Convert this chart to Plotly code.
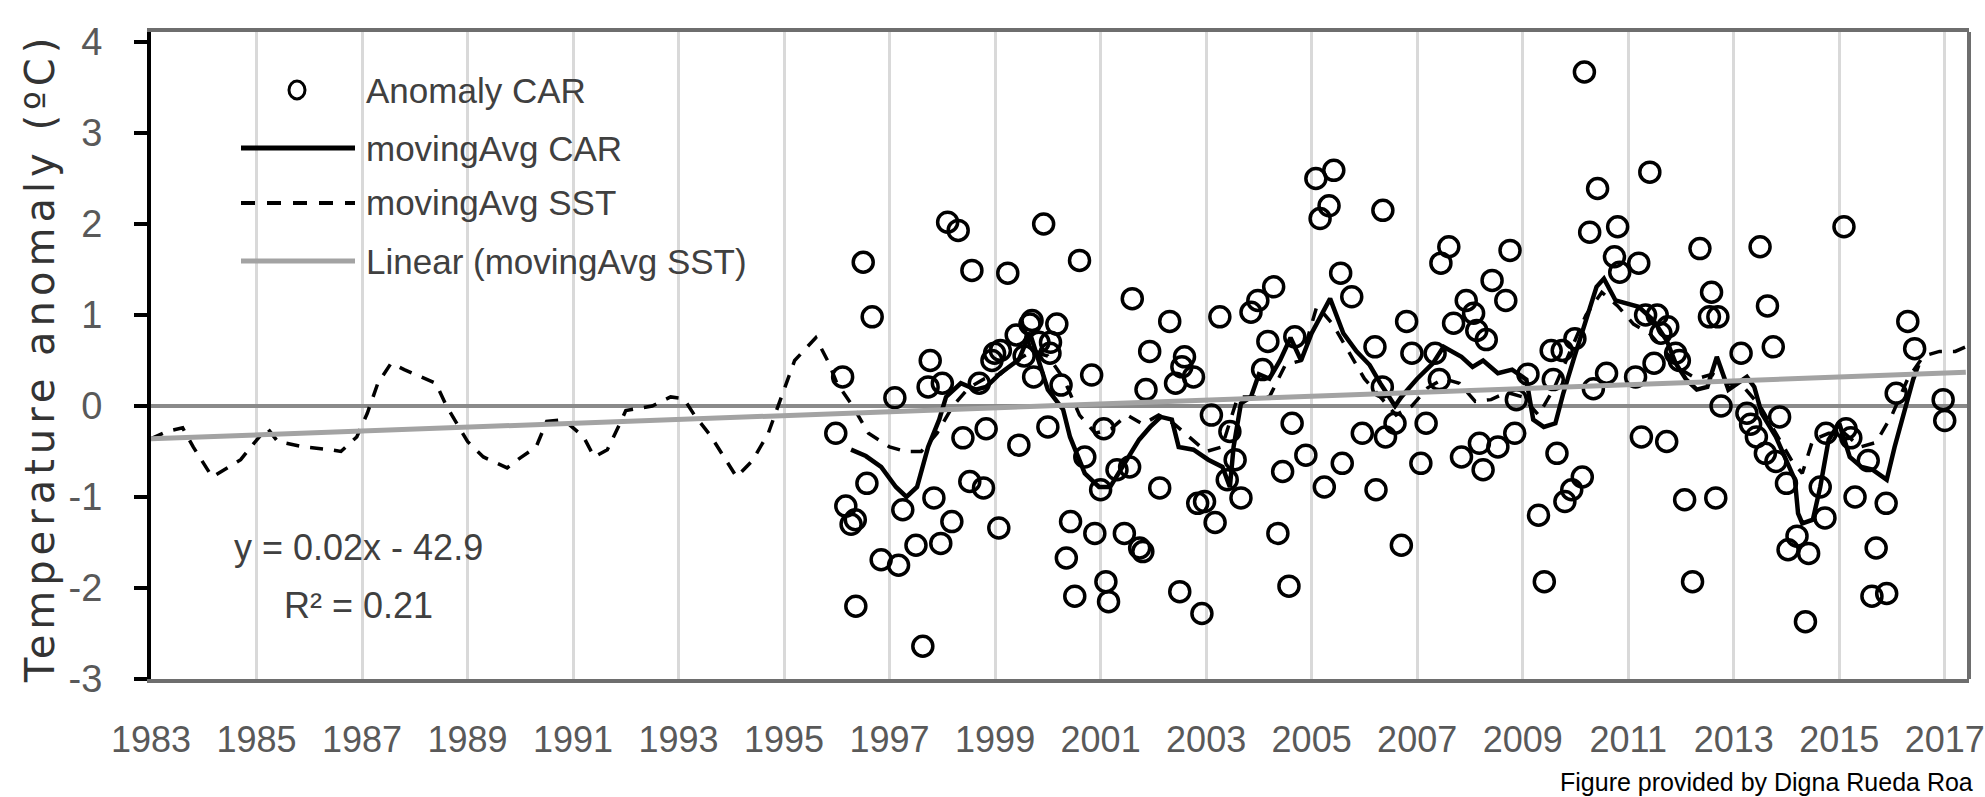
import plotly.graph_objects as go

# ---------------- data ----------------
anomaly_years = [
    1995.98, 1996.11, 1996.17, 1996.27, 1996.35, 1996.36, 1996.50, 1996.57, 1996.67, 1996.84, 1997.10,
    1997.17, 1997.25, 1997.50, 1997.63, 1997.73, 1997.77, 1997.84, 1997.97, 1998.00,
    1998.10, 1998.18, 1998.30, 1998.39, 1998.52, 1998.56, 1998.70, 1998.78, 1998.83, 1998.94, 1998.99,
    1999.07, 1999.10, 1999.24, 1999.40, 1999.45, 1999.55, 1999.66, 1999.70, 1999.73, 1999.83, 1999.92,
    2000.00, 2000.04, 2000.05, 2000.17, 2000.25, 2000.35, 2000.43, 2000.51, 2000.60, 2000.70, 2000.83, 2000.89,
    2001.00, 2001.06, 2001.10, 2001.15, 2001.31, 2001.45, 2001.55, 2001.60, 2001.74, 2001.80, 2001.86, 2001.93,
    2002.12, 2002.31, 2002.42, 2002.50, 2002.54, 2002.59, 2002.76, 2002.84, 2002.92, 2002.97,
    2003.10, 2003.17, 2003.26, 2003.40, 2003.45, 2003.55, 2003.66, 2003.85, 2003.98,
    2004.07, 2004.17, 2004.28, 2004.36, 2004.45, 2004.57, 2004.63, 2004.68, 2004.89,
    2005.08, 2005.16, 2005.24, 2005.33, 2005.42, 2005.55, 2005.58, 2005.76, 2005.96,
    2006.20, 2006.22, 2006.34, 2006.35, 2006.40, 2006.58, 2006.70, 2006.80, 2006.90,
    2007.07, 2007.17, 2007.34, 2007.42, 2007.45, 2007.60, 2007.69, 2007.84, 2007.93,
    2008.07, 2008.13, 2008.18, 2008.25, 2008.31, 2008.42, 2008.53, 2008.68, 2008.76, 2008.85, 2008.88,
    2009.10, 2009.30, 2009.41, 2009.54, 2009.58, 2009.65, 2009.75, 2009.80, 2009.93, 2009.99,
    2010.13, 2010.17, 2010.27, 2010.34, 2010.42, 2010.59, 2010.74, 2010.80, 2010.84,
    2011.14, 2011.20, 2011.25, 2011.33, 2011.41, 2011.49, 2011.55, 2011.62, 2011.73, 2011.75, 2011.90, 2011.97,
    2012.07, 2012.22, 2012.36, 2012.54, 2012.58, 2012.66, 2012.70, 2012.76,
    2013.14, 2013.25, 2013.32, 2013.43, 2013.50, 2013.60, 2013.64, 2013.75, 2013.80, 2013.87,
    2014.00, 2014.03, 2014.20, 2014.36, 2014.42, 2014.64, 2014.73, 2014.75,
    2015.09, 2015.13, 2015.22, 2015.30, 2015.55, 2015.62, 2015.70, 2015.89, 2015.90,
    2016.08, 2016.30, 2016.43, 2016.97, 2017.00,
]
anomaly_values = [
    -0.30, 0.32, -1.10, -1.30, -1.25, -2.20, 1.58, -0.85, 0.98, -1.69, 0.09,
    -1.75, -1.14, -1.53, -2.64, 0.21, 0.50, -1.01, -1.51, 0.25,
    2.02, -1.27, 1.93, -0.35, -0.83, 1.49, 0.25, -0.90, -0.25, 0.50, 0.58,
    -1.34, 0.61, 1.46, 0.78, -0.43, 0.55, 0.90, 0.94, 0.32, 0.70, 2.00,
    -0.23, 0.58, 0.70, 0.90, 0.23, -1.67, -1.27, -2.09, 1.60, -0.56, 0.34, -1.40,
    -0.92, -0.25, -1.93, -2.15, -0.70, -1.40, -0.67, 1.18, -1.56, -1.60, 0.18, 0.60,
    -0.90, 0.93, 0.25, -2.04, 0.43, 0.54, 0.32, -1.07, -2.28, -1.05,
    -0.10, -1.28, 0.98, -0.81, -0.28, -0.59, -1.01, 1.03, 1.16,
    0.40, 0.71, 1.31, -1.40, -0.72, -1.98, -0.19, 0.76, -0.54,
    2.50, 2.06, -0.89, 2.20, 2.59, 1.46, -0.63, 1.20, -0.30,
    0.65, -0.92, 0.21, 2.15, -0.34, -0.19, -1.53, 0.93, 0.58,
    -0.63, -0.19, 0.58, 0.29, 1.57, 1.75, 0.91, -0.56, 1.16,
    1.02, 0.83, -0.41, -0.70, 0.73, 1.38, -0.45, 1.16, 1.71, -0.30, 0.07,
    0.35, -1.20, -1.93, 0.61, 0.29, -0.52, 0.61, -1.05, -0.92, 0.74,
    -0.78, 3.67, 1.91, 0.19, 2.39, 0.36, 1.64, 1.97, 1.47,
    0.32, 1.57, -0.34, 1.00, 2.57, 0.47, 1.00, 0.80, -0.39, 0.87, 0.58, 0.50,
    -1.03, -1.93, 1.73, 0.98, 1.25, -1.01, 0.98, 0.00,
    0.58, -0.08, -0.20, -0.34, 1.75, -0.52, 1.10, 0.65, -0.61, -0.12,
    -0.85, -1.58, -1.43, -2.37, -1.62, -0.89, -1.23, -0.30,
    1.97, -0.25, -0.35, -1.00, -0.60, -2.09, -1.56, -1.07, -2.06,
    0.14, 0.93, 0.63, 0.07, -0.16,
]

car_ma_years = [
    1996.27, 1996.55, 1996.84, 1997.12, 1997.32, 1997.52, 1997.73, 1997.94, 1998.07, 1998.35,
    1998.63, 1998.83, 1999.10, 1999.45, 1999.66, 1999.80, 2000.00, 2000.29, 2000.42, 2000.70,
    2000.97, 2001.18, 2001.45, 2001.73, 2001.94, 2002.14, 2002.35, 2002.48, 2002.76, 2003.04,
    2003.31, 2003.45, 2003.52, 2003.66, 2003.85, 2004.00, 2004.20, 2004.40, 2004.60, 2004.80,
    2005.00, 2005.35, 2005.60, 2005.85, 2006.10, 2006.30, 2006.58, 2006.70, 2006.85, 2007.00,
    2007.30, 2007.50, 2007.84, 2008.05, 2008.25, 2008.53, 2008.80, 2009.07, 2009.20, 2009.40,
    2009.62, 2009.77, 2009.98, 2010.19, 2010.40, 2010.54, 2010.76, 2011.20, 2011.48, 2011.73,
    2011.90, 2012.10, 2012.30, 2012.50, 2012.68, 2012.90, 2013.25, 2013.39, 2013.53, 2013.80,
    2014.00, 2014.16, 2014.22, 2014.30, 2014.50, 2014.64, 2014.80, 2015.00, 2015.20, 2015.42,
    2015.63, 2015.90, 2016.05, 2016.25, 2016.40, 2016.50,
]
car_ma_values = [
    -0.48, -0.55, -0.67, -0.89, -1.00, -0.89, -0.45, -0.15, 0.10, 0.25,
    0.18, 0.21, 0.36, 0.51, 0.80, 0.54, 0.18, -0.04, -0.34, -0.74,
    -0.89, -0.89, -0.63, -0.37, -0.23, -0.12, -0.15, -0.45, -0.48, -0.59,
    -0.67, -0.89, -0.45, 0.03, 0.10, 0.35, 0.30, 0.50, 0.75, 0.50,
    0.80, 1.18, 0.80, 0.60, 0.45, 0.25, 0.00, 0.10, 0.20, 0.30,
    0.47, 0.65, 0.54, 0.43, 0.50, 0.36, 0.40, 0.29, -0.15, -0.23,
    -0.19, 0.14, 0.54, 0.91, 1.31, 1.40, 1.16, 1.09, 0.94, 0.72,
    0.47, 0.29, 0.18, 0.21, 0.54, 0.18, 0.32, 0.21, -0.08, -0.34,
    -0.59, -0.81, -1.18, -1.29, -1.25, -0.89, -0.37, -0.19, -0.56, -0.67,
    -0.70, -0.81, -0.45, 0.00, 0.29, 0.45,
]

sst_ma_years = [
    1983.00, 1983.30, 1983.60, 1983.80, 1984.16, 1984.45, 1984.70, 1984.95, 1985.20, 1985.40,
    1985.90, 1986.40, 1986.60, 1986.90, 1987.10, 1987.30, 1987.55, 1987.80, 1988.10, 1988.40,
    1988.60, 1988.80, 1989.00, 1989.30, 1989.75, 1990.00, 1990.30, 1990.50, 1990.80, 1990.90,
    1991.20, 1991.40, 1991.65, 1991.85, 1992.00, 1992.20, 1992.50, 1992.85, 1993.10, 1993.30,
    1993.60, 1994.10, 1994.40, 1994.70, 1994.95, 1995.20, 1995.60, 1995.85,
    1996.00, 1996.30, 1996.60, 1997.00, 1997.30, 1997.60, 1997.90, 1998.20, 1998.50, 1998.80,
    1999.10, 1999.40, 1999.70, 2000.00, 2000.30, 2000.60, 2000.90, 2001.20, 2001.50, 2001.80,
    2002.10, 2002.40, 2002.70, 2003.00, 2003.30, 2003.60, 2003.90, 2004.20, 2004.50, 2004.80,
    2005.10, 2005.40, 2005.70, 2006.00, 2006.30, 2006.60, 2006.90, 2007.20, 2007.50, 2007.80,
    2008.10, 2008.40, 2008.70, 2009.00, 2009.30, 2009.60, 2009.90, 2010.20, 2010.50, 2010.80,
    2011.10, 2011.40, 2011.70, 2012.00, 2012.30, 2012.60, 2012.90, 2013.20, 2013.50, 2013.80,
    2014.10, 2014.30, 2014.50, 2014.80, 2015.10, 2015.40, 2015.70, 2016.00, 2016.30, 2016.60,
    2016.90, 2017.20, 2017.40,
]
sst_ma_values = [
    -0.36, -0.28, -0.24, -0.45, -0.78, -0.68, -0.59, -0.41, -0.24, -0.39,
    -0.45, -0.48, -0.50, -0.34, -0.08, 0.25, 0.47, 0.40, 0.32, 0.25,
    0.00, -0.19, -0.39, -0.56, -0.68, -0.57, -0.45, -0.17, -0.15, -0.19,
    -0.34, -0.56, -0.48, -0.24, -0.05, -0.03, 0.00, 0.10, 0.08, -0.10,
    -0.32, -0.78, -0.60, -0.30, 0.10, 0.50, 0.75, 0.47,
    0.25, 0.00, -0.30, -0.45, -0.50, -0.50, -0.30, 0.00, 0.20, 0.30,
    0.35, 0.50, 0.60, 0.55, 0.30, -0.10, -0.30, -0.25, -0.10, -0.20,
    -0.10, -0.20, -0.35, -0.50, -0.45, 0.10, 0.10, 0.10, 0.45, 0.50,
    1.10, 0.90, 0.60, 0.30, 0.10, -0.10, 0.00, 0.20, 0.30, 0.25,
    0.05, 0.07, 0.15, 0.10, -0.10, 0.20, 0.60, 1.00, 1.25, 1.10,
    0.90, 0.80, 0.60, 0.40, 0.30, 0.35, 0.25, 0.20, 0.00, -0.30,
    -0.60, -0.74, -0.37, -0.30, -0.30, -0.45, -0.40, -0.10, 0.30, 0.55,
    0.60, 0.60, 0.65,
]

trend_years = [1983.0, 2017.4]
trend_values = [-0.36, 0.37]

x_tick_years = list(range(1983, 2018, 2))
x_tick_labels = [str(y) for y in x_tick_years]
y_tick_values = [-3, -2, -1, 0, 1, 2, 3, 4]
y_tick_labels = ["-3", "-2", "-1", "0", "1", "2", "3", "4"]

legend_names = ["Anomaly CAR", "movingAvg CAR", "movingAvg SST", "Linear (movingAvg SST)"]
equation_text = "y = 0.02x - 42.9"
r2_text = "R² = 0.21"
footer_text = "Figure provided by Digna Rueda Roa"
y_title = "Temperature anomaly (ºC)"

# ---------------- styling ----------------
NARROW = "Liberation Sans Narrow, Liberation Sans, Arial, sans-serif"
W, H = 1985, 797
ML, MR, MT, MB = 151, 16, 32, 118
PW, PH = W - ML - MR, H - MT - MB


def px_x(px):
    return (px - ML) / PW


def px_y(py):
    return (H - MB - py) / PH


fig = go.Figure()

fig.add_trace(go.Scatter(
    x=sst_ma_years, y=sst_ma_values, mode="lines", name=legend_names[2],
    line=dict(color="black", width=3.5, dash="13px,11px"), showlegend=False))
fig.add_trace(go.Scatter(
    x=anomaly_years, y=anomaly_values, mode="markers", name=legend_names[0],
    marker=dict(symbol="circle-open", size=20, color="black", line=dict(width=3.5, color="black")),
    showlegend=False))
fig.add_trace(go.Scatter(
    x=car_ma_years, y=car_ma_values, mode="lines", name=legend_names[1],
    line=dict(color="black", width=4.5), showlegend=False))
fig.add_trace(go.Scatter(
    x=trend_years, y=trend_values, mode="lines", name=legend_names[3],
    line=dict(color="#a3a3a3", width=5), showlegend=False))

shapes = []
# white boxes behind legend and equation (cover gridlines only)
shapes.append(dict(type="rect", xref="paper", yref="paper", layer="between",
                   x0=0.003, x1=px_x(765), y0=px_y(290), y1=px_y(63),
                   fillcolor="white", line=dict(width=0)))
shapes.append(dict(type="rect", xref="paper", yref="paper", layer="between",
                   x0=0.003, x1=px_x(505), y0=px_y(643), y1=px_y(500),
                   fillcolor="white", line=dict(width=0)))
# right border
shapes.append(dict(type="line", xref="paper", yref="paper", x0=1, x1=1, y0=0, y1=1,
                   line=dict(color="#6e6e6e", width=4)))

# legend samples
row_y = [90, 148, 203, 261]
shapes.append(dict(type="circle", xref="paper", yref="paper", xsizemode="pixel", ysizemode="pixel",
                   xanchor=px_x(297), yanchor=px_y(row_y[0]), x0=-8, x1=8, y0=-9, y1=9,
                   line=dict(color="black", width=3)))
shapes.append(dict(type="line", xref="paper", yref="paper", x0=px_x(241), x1=px_x(355),
                   y0=px_y(row_y[1]), y1=px_y(row_y[1]), line=dict(color="black", width=5)))
shapes.append(dict(type="line", xref="paper", yref="paper", x0=px_x(241), x1=px_x(355),
                   y0=px_y(row_y[2]), y1=px_y(row_y[2]), line=dict(color="black", width=4, dash="14px,12px")))
shapes.append(dict(type="line", xref="paper", yref="paper", x0=px_x(241), x1=px_x(355),
                   y0=px_y(row_y[3]), y1=px_y(row_y[3]), line=dict(color="#a3a3a3", width=5)))

annotations = []
for name, ry in zip(legend_names, row_y):
    annotations.append(dict(text=name, xref="paper", yref="paper", x=px_x(364), y=px_y(ry),
                            xanchor="left", yanchor="middle", showarrow=False,
                            font=dict(family=NARROW, size=35, color="#404040")))
annotations.append(dict(text=equation_text, xref="paper", yref="paper", x=px_x(358), y=px_y(547),
                        xanchor="center", yanchor="middle", showarrow=False,
                        font=dict(family=NARROW, size=36, color="#404040")))
annotations.append(dict(text=r2_text, xref="paper", yref="paper", x=px_x(358), y=px_y(605),
                        xanchor="center", yanchor="middle", showarrow=False,
                        font=dict(family=NARROW, size=36, color="#404040")))
annotations.append(dict(text=footer_text, xref="paper", yref="paper", x=px_x(1975), y=px_y(782),
                        xanchor="right", yanchor="middle", showarrow=False,
                        font=dict(family="Liberation Sans, Arial, sans-serif", size=25, color="black")))
annotations.append(dict(text='<span style="letter-spacing:5px">' + y_title + '</span>',
                        xref="paper", yref="paper", x=px_x(40), y=px_y(358),
                        xanchor="center", yanchor="middle", showarrow=False, textangle=-90,
                        font=dict(family="DejaVu Sans, Verdana, sans-serif", size=40, color="#333333")))

fig.update_layout(
    width=W, height=H, margin=dict(l=ML, r=MR, t=MT, b=MB, autoexpand=False),
    paper_bgcolor="white", plot_bgcolor="white",
    shapes=shapes, annotations=annotations, showlegend=False,
    xaxis=dict(range=[1983, 2017.46], tickvals=x_tick_years, ticktext=x_tick_labels,
               showgrid=True, gridcolor="#d9d9d9", gridwidth=3, zeroline=False,
               showline=True, linecolor="#6e6e6e", linewidth=4, mirror=True,
               ticks="", tickangle=0, tickfont=dict(family=NARROW, size=36, color="#595959"),
               ticklabelstandoff=26, ticklabeloverflow="allow"),
    yaxis=dict(range=[-3, 4.11], tickvals=y_tick_values, ticktext=y_tick_labels,
               showgrid=False, zeroline=True, zerolinecolor="#8a8a8a", zerolinewidth=4,
               showline=True, linecolor="black", linewidth=4,
               ticks="outside", ticklen=13, tickwidth=4, tickcolor="black",
               tickfont=dict(family=NARROW, size=38, color="#595959"),
               ticklabelstandoff=24),
)

fig.write_html(
    "out.html",
    config={"displayModeBar": False},
    post_script="document.body.style.margin='0';document.body.style.overflow='hidden';",
)
